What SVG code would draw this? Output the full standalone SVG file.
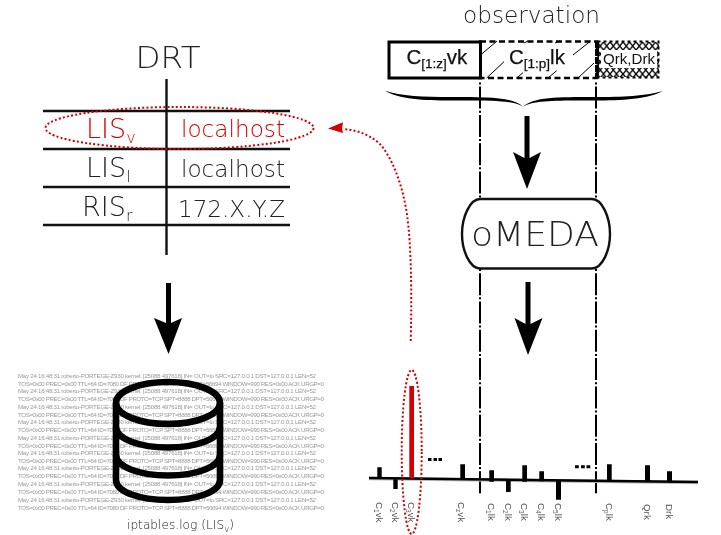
<svg xmlns="http://www.w3.org/2000/svg" width="721" height="535" viewBox="0 0 721 535">
<style>
g{opacity:.995}
text{font-family:"DejaVu Sans",sans-serif;font-weight:200;fill:#222}
.red{fill:#d40000}
.rule{stroke:#111;stroke-width:2.4;fill:none}
.log{font-family:"Liberation Sans",sans-serif;font-weight:400;font-size:6.2px;fill:#999}
.sans{font-family:"Liberation Sans",sans-serif;font-weight:400;fill:#111;stroke:#111;stroke-width:.25}
.lab{font-family:"Liberation Sans",sans-serif;font-weight:400;font-size:9.800px;fill:#555}
.dd{stroke:#000;stroke-width:2;fill:none;stroke-dasharray:2 2.2 22 2.1}
.dot{fill:none;stroke:#d40000;stroke-width:2;stroke-dasharray:2 2.2}
.cyl{fill:none;stroke:#000;stroke-width:6.600}
</style>
<defs>
<pattern id="xh" width="6.500" height="8" patternUnits="userSpaceOnUse" x="597" y="42">
<path d="M0 0L6.500 8M6.500 0L0 8" stroke="#000" stroke-width="1.400"/>
</pattern>
<filter id="soft" x="0" y="0" width="1" height="1"><feGaussianBlur stdDeviation="0.350"/></filter>
</defs>
<rect width="721" height="535" fill="#fff"/>

<g id="log">
<g filter="url(#soft)">
<text class="log" x="18" y="377.7" textLength="298">May 24 16:48:31 roberto-PORTEGE-Z930 kernel: [25088.497618] IN= OUT=lo SRC=127.0.0.1 DST=127.0.0.1 LEN=52</text>
<text class="log" x="18" y="385.5" textLength="306">TOS=0x00 PREC=0x00 TTL=64 ID=7080 DF PROTO=TCP SPT=8888 DPT=56694 WINDOW=990 RES=0x00 ACK URGP=0</text>
<text class="log" x="18" y="393.3" textLength="298">May 24 16:48:31 roberto-PORTEGE-Z930 kernel: [25088.497618] IN= OUT=lo SRC=127.0.0.1 DST=127.0.0.1 LEN=52</text>
<text class="log" x="18" y="401.1" textLength="306">TOS=0x00 PREC=0x00 TTL=64 ID=7080 DF PROTO=TCP SPT=8888 DPT=56694 WINDOW=990 RES=0x00 ACK URGP=0</text>
<text class="log" x="18" y="408.7" textLength="298">May 24 16:48:31 roberto-PORTEGE-Z930 kernel: [25088.497618] IN= OUT=lo SRC=127.0.0.1 DST=127.0.0.1 LEN=52</text>
<text class="log" x="18" y="416.5" textLength="306">TOS=0x00 PREC=0x00 TTL=64 ID=7080 DF PROTO=TCP SPT=8888 DPT=56694 WINDOW=990 RES=0x00 ACK URGP=0</text>
<text class="log" x="18" y="424.3" textLength="298">May 24 16:48:31 roberto-PORTEGE-Z930 kernel: [25088.497618] IN= OUT=lo SRC=127.0.0.1 DST=127.0.0.1 LEN=52</text>
<text class="log" x="18" y="432.1" textLength="306">TOS=0x00 PREC=0x00 TTL=64 ID=7080 DF PROTO=TCP SPT=8888 DPT=56694 WINDOW=990 RES=0x00 ACK URGP=0</text>
<text class="log" x="18" y="439.7" textLength="298">May 24 16:48:31 roberto-PORTEGE-Z930 kernel: [25088.497618] IN= OUT=lo SRC=127.0.0.1 DST=127.0.0.1 LEN=52</text>
<text class="log" x="18" y="447.5" textLength="306">TOS=0x00 PREC=0x00 TTL=64 ID=7080 DF PROTO=TCP SPT=8888 DPT=56694 WINDOW=990 RES=0x00 ACK URGP=0</text>
<text class="log" x="18" y="455" textLength="298">May 24 16:48:31 roberto-PORTEGE-Z930 kernel: [25088.497618] IN= OUT=lo SRC=127.0.0.1 DST=127.0.0.1 LEN=52</text>
<text class="log" x="18" y="463" textLength="306">TOS=0x00 PREC=0x00 TTL=64 ID=7080 DF PROTO=TCP SPT=8888 DPT=56694 WINDOW=990 RES=0x00 ACK URGP=0</text>
<text class="log" x="18" y="470.4" textLength="298">May 24 16:48:31 roberto-PORTEGE-Z930 kernel: [25088.497618] IN= OUT=lo SRC=127.0.0.1 DST=127.0.0.1 LEN=52</text>
<text class="log" x="18" y="478.4" textLength="306">TOS=0x00 PREC=0x00 TTL=64 ID=7080 DF PROTO=TCP SPT=8888 DPT=56694 WINDOW=990 RES=0x00 ACK URGP=0</text>
<text class="log" x="18" y="486.4" textLength="298">May 24 16:48:31 roberto-PORTEGE-Z930 kernel: [25088.497618] IN= OUT=lo SRC=127.0.0.1 DST=127.0.0.1 LEN=52</text>
<text class="log" x="18" y="494.4" textLength="306">TOS=0x00 PREC=0x00 TTL=64 ID=7080 DF PROTO=TCP SPT=8888 DPT=56694 WINDOW=990 RES=0x00 ACK URGP=0</text>
<text class="log" x="18" y="501.7" textLength="298">May 24 16:48:31 roberto-PORTEGE-Z930 kernel: [25088.497618] IN= OUT=lo SRC=127.0.0.1 DST=127.0.0.1 LEN=52</text>
<text class="log" x="18" y="509.7" textLength="306">TOS=0x00 PREC=0x00 TTL=64 ID=7080 DF PROTO=TCP SPT=8888 DPT=56694 WINDOW=990 RES=0x00 ACK URGP=0</text>
</g>
<text x="127" y="529" font-size="12.200">iptables.log (LIS<tspan font-size="8.500" dy="3">v</tspan><tspan dy="-3">)</tspan></text>
</g>

<g id="database">
<ellipse class="cyl" cx="168" cy="403" rx="52" ry="21"/>
<path class="cyl" d="M116 403V480C116 492 140 500 168 500C196 500 220 492 220 480V403"/>
<path class="cyl" d="M116 427C116 439 140 447.500 168 447.500C196 447.500 220 439 220 427"/>
<path class="cyl" d="M116 455C116 467 140 475.500 168 475.500C196 475.500 220 467 220 455"/>
</g>

<g id="drt-table">
<text x="135.500" y="67.500" font-size="31" textLength="65" lengthAdjust="spacingAndGlyphs">DRT</text>
<path class="rule" d="M43 111H290M43 149H290M43 187H290M43 225H290M166.500 79V255"/>
<text class="red" x="86" y="138" font-size="27">LIS<tspan font-size="16" dy="5">v</tspan></text>
<text class="red" x="181" y="137" font-size="23.500" textLength="104" lengthAdjust="spacingAndGlyphs">localhost</text>
<text x="86" y="177" font-size="27">LIS<tspan font-size="16" dy="5">l</tspan></text>
<text x="181" y="177" font-size="23.500" textLength="104" lengthAdjust="spacingAndGlyphs">localhost</text>
<text x="82" y="216" font-size="27">RIS<tspan font-size="16" dy="5">r</tspan></text>
<text x="178" y="217" font-size="23.500" textLength="107" lengthAdjust="spacingAndGlyphs">172.X.Y.Z</text>
<ellipse class="dot" cx="179.500" cy="128" rx="134" ry="21"/>
</g>

<g id="observation">
<text x="463" y="23" font-size="23.500" textLength="137" lengthAdjust="spacingAndGlyphs">observation</text>
<path d="M481.700 54L497 41M486.700 78L504 61.700M516.700 78L523 72.700M548 78L556.700 70.700M578 78L594 63M573 55L590.700 41M555 43L560 41M524 43L528 41" stroke="#000" stroke-width="1" fill="none"/>
<rect x="480" y="41.500" width="117" height="36.500" fill="none" stroke="#000" stroke-width="2.500" stroke-dasharray="6 3.500"/>
<rect x="389" y="42" width="91.500" height="36" fill="#fff" stroke="#000" stroke-width="3"/>
<text class="sans" x="406.500" y="64" font-size="20.500">C<tspan font-size="13.500" dy="4">[1:z]</tspan><tspan dy="-4">vk</tspan></text>
<text class="sans" x="509" y="64" font-size="20.500">C<tspan font-size="13.500" dy="4">[1:p]</tspan><tspan dy="-4">lk</tspan></text>
<rect x="597" y="42" width="62" height="35" fill="url(#xh)"/>
<rect x="601" y="50" width="56" height="18" fill="#fff"/>
<rect x="597.500" y="41.500" width="61" height="36" fill="none" stroke="#000" stroke-width="2" stroke-dasharray="3 3"/>
<path d="M597 41V78" stroke="#000" stroke-width="4" stroke-dasharray="7 1"/>
<text class="sans" x="603" y="63.500" font-size="14.200" style="stroke:none" textLength="52" lengthAdjust="spacingAndGlyphs">Qrk,Drk</text>
<path d="M385 90.700C400 96 425 97 450 97C490 97 512 97 523 106.700C534 97 556 97 596 97C620 97 648 96 663 90.700C650 99 620 100.500 596 100.500C556 100.500 534 100 523 106.700C512 100 490 100.500 450 100.500C425 100.500 398 99 385 90.700Z" fill="#000"/>
</g>

<g id="omeda">
<path d="M480 199H592C602 199 610 217 610 234C610 251 602 268.500 592 268.500H480C470 268.500 462 251 462 234C462 217 470 199 480 199Z" fill="#fff" stroke="#111" stroke-width="2.400"/>
<text x="471" y="245.500" font-size="33.500" textLength="128" lengthAdjust="spacingAndGlyphs">oMEDA</text>
</g>

<g id="connectors">
<path class="dd" d="M480 82.400V198M596 82.400V198M480 269V495M596 269V495"/>
<path d="M166 283H171V323L182 318L168.500 354L154 318L166 323Z" fill="#000"/>
<path d="M524.500 116H529.500V158L541 152L527 189L513 152L524.500 158Z" fill="#000"/>
<path d="M525.500 282H530.500V324L542.500 318L528 355L514.500 318L525.500 324Z" fill="#000"/>
<path class="dot" d="M410.700 341C412 290 411 245 407.300 216.700C403 185 392 157 379.300 143.300C367 133 355 130 343 129"/>
<path d="M328 128.500L343 122.300L342 128.500L343 133Z" fill="#d40000"/>
</g>

<g id="chart">
<path d="M369 478.500L698 482.500" stroke="#bbb" stroke-width="3.500"/>
<path d="M369 478L698 482" stroke="#000" stroke-width="2.500"/>
<path d="M377.300 467.300h4.400v11h-4.400zM393.300 479.300h4.400v9.700h-4.400zM460.300 464.300h4.700v15h-4.700zM489.300 470.300h4.700v11.400h-4.700zM506 480h4.700v12h-4.700zM522.300 465.300h4.700v16.400h-4.700zM539.300 471.300h4.700v10h-4.700zM556 480.700h5v19h-5zM607 464.300h4.700v16.400h-4.700zM645 465.300h5v15.700h-5zM667 471.300h5v10.400h-5z" fill="#000"/>
<rect x="409.300" y="386" width="4.700" height="92.300" fill="#d40000"/>
<path d="M428 459.500h3.500M433.500 459.500h3.500M438.500 459.500h3.500M575 466.700h3.800M581 466.700h3.800M586.500 466.700h3.800" stroke="#000" stroke-width="3"/>
<ellipse class="dot" cx="411.700" cy="452" rx="10" ry="82"/>
<text class="lab" transform="translate(375.500 502) rotate(90)">C<tspan font-size="6.500" dy="1.500">1</tspan><tspan dy="-1.500">vk</tspan></text>
<text class="lab" transform="translate(391.500 502) rotate(90)">C<tspan font-size="6.500" dy="1.500">2</tspan><tspan dy="-1.500">vk</tspan></text>
<text class="lab" transform="translate(407.500 502) rotate(90)">C<tspan font-size="6.500" dy="1.500">3</tspan><tspan dy="-1.500">vk</tspan></text>
<text class="lab" transform="translate(457.500 502) rotate(90)">C<tspan font-size="6.500" dy="1.500">z</tspan><tspan dy="-1.500">vk</tspan></text>
<text class="lab" transform="translate(487.500 503) rotate(90)">C<tspan font-size="6.500" dy="1.500">1</tspan><tspan dy="-1.500">lk</tspan></text>
<text class="lab" transform="translate(504.500 503) rotate(90)">C<tspan font-size="6.500" dy="1.500">2</tspan><tspan dy="-1.500">lk</tspan></text>
<text class="lab" transform="translate(520.500 503) rotate(90)">C<tspan font-size="6.500" dy="1.500">3</tspan><tspan dy="-1.500">lk</tspan></text>
<text class="lab" transform="translate(537.500 503) rotate(90)">C<tspan font-size="6.500" dy="1.500">4</tspan><tspan dy="-1.500">lk</tspan></text>
<text class="lab" transform="translate(554.500 503) rotate(90)">C<tspan font-size="6.500" dy="1.500">5</tspan><tspan dy="-1.500">lk</tspan></text>
<text class="lab" transform="translate(605.500 503) rotate(90)">C<tspan font-size="6.500" dy="1.500">p</tspan><tspan dy="-1.500">lk</tspan></text>
<text class="lab" transform="translate(643.500 504) rotate(90)">Qrk</text>
<text class="lab" transform="translate(665.500 504) rotate(90)">Drk</text>
</g>
</svg>
